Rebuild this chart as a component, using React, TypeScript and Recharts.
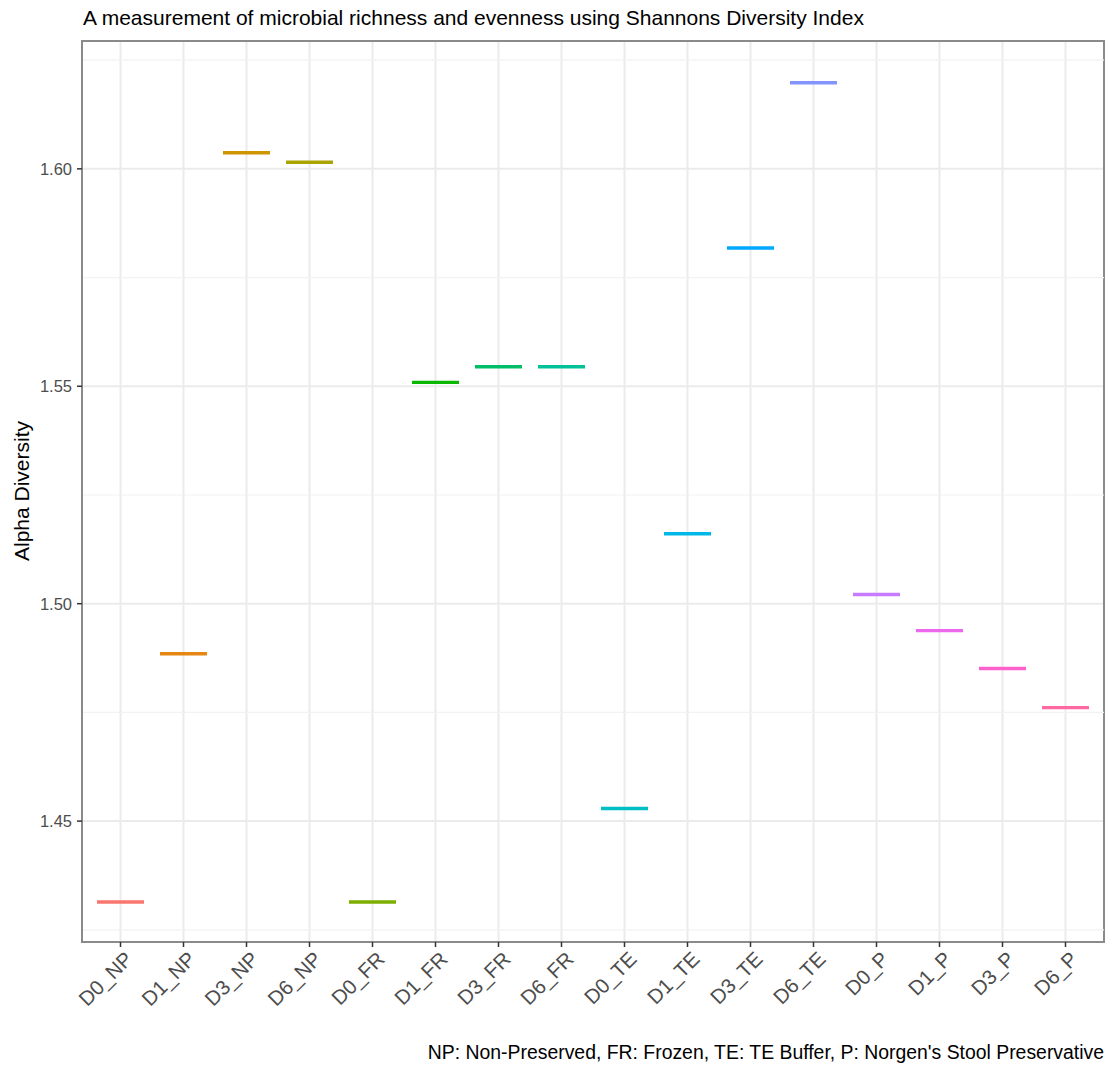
import React from 'react';
import * as RC from 'recharts';
import {
  ComposedChart,
  Bar,
  Cell,
  XAxis,
  YAxis,
  CartesianGrid,
  ReferenceLine,
} from 'recharts';

const categories = [
  'D0_NP', 'D1_NP', 'D3_NP', 'D6_NP',
  'D0_FR', 'D1_FR', 'D3_FR', 'D6_FR',
  'D0_TE', 'D1_TE', 'D3_TE', 'D6_TE',
  'D0_P', 'D1_P', 'D3_P', 'D6_P',
];

const alphaDiversity = [
  1.4314, 1.4885, 1.6037, 1.6015,
  1.4314, 1.5509, 1.5545, 1.5545,
  1.4529, 1.5161, 1.5818, 1.6198,
  1.5021, 1.4938, 1.4851, 1.4761,
];

const seriesColors = [
  '#F8766D', '#E68613', '#CD9600', '#ABA300',
  '#7CAE00', '#0CB702', '#00BE67', '#00C19A',
  '#00BFC4', '#00B8E7', '#00A9FF', '#8494FF',
  '#C77CFF', '#ED68ED', '#FF61CC', '#FF68A1',
];

const yTicks = [1.45, 1.5, 1.55, 1.6];
const yMinorTicks = [1.425, 1.475, 1.525, 1.575, 1.625];
const yDomain: [number, number] = [1.4222, 1.6294];

const titleText = 'A measurement of microbial richness and evenness using Shannons Diversity Index';
const yAxisTitle = 'Alpha Diversity';
const captionText = "NP: Non-Preserved, FR: Frozen, TE: TE Buffer, P: Norgen's Stool Preservative";

const data = categories.map((cat, i) => ({ cat, value: alphaDiversity[i] }));

const FONT = '"Liberation Sans", Arial, Helvetica, sans-serif';
const BORDER = { stroke: '#8A8A8A', strokeWidth: 2 };

const usePlotAreaSafe: () => any = (RC as any).usePlotArea ?? (() => null);

const PanelBorder = () => {
  const area = usePlotAreaSafe();
  if (!area) return null;
  return (
    <rect
      x={area.x}
      y={area.y}
      width={area.width}
      height={area.height}
      fill="none"
      stroke={BORDER.stroke}
      strokeWidth={BORDER.strokeWidth}
    />
  );
};

const MedianLine = (props: any) => {
  const { x, y, width, fill } = props;
  if (x == null || y == null) return null;
  return (
    <line
      x1={x}
      x2={x + width}
      y1={y}
      y2={y}
      stroke={fill}
      strokeWidth={3.4}
      strokeLinecap="butt"
    />
  );
};

const XTick = (props: any) => {
  const { x, y, payload } = props;
  return (
    <text
      x={x + 3}
      y={y + 1}
      transform={`rotate(-45 ${x + 3} ${y + 1})`}
      textAnchor="end"
      fontSize={20.5}
      fontFamily={FONT}
      fill="#4D4D4D"
      dy="0.72em"
    >
      {payload.value}
    </text>
  );
};

export default function App() {
  return (
    <div
      style={{
        position: 'absolute',
        left: 0,
        top: 0,
        width: 1107,
        height: 1065,
        background: '#fff',
        fontFamily: FONT,
      }}
    >
      <ComposedChart
        width={1107}
        height={1065}
        data={data}
        margin={{ top: 41, right: 3, bottom: 0, left: 0 }}
      >
        <CartesianGrid stroke="#EBEBEB" strokeWidth={2} />
        {yMinorTicks.map((v) => (
          <ReferenceLine key={v} y={v} stroke="#F2F2F2" strokeWidth={1.2} />
        ))}
        <XAxis
          dataKey="cat"
          type="category"
          interval={0}
          height={123}
          padding={{ left: 7, right: 7 }}
          axisLine={BORDER}
          tickLine={{ stroke: '#333333', strokeWidth: 1.5 }}
          tickSize={5}
          tick={<XTick />}
        />
        <YAxis
          type="number"
          width={82}
          domain={yDomain}
          ticks={yTicks}
          allowDataOverflow
          axisLine={BORDER}
          tickLine={{ stroke: '#333333', strokeWidth: 1.5 }}
          tickSize={5}
          tickMargin={5}
          tick={{ fontSize: 16.5, fill: '#4D4D4D', fontFamily: FONT }}
          tickFormatter={(v: number) => v.toFixed(2)}
        />
        <Bar dataKey="value" barSize={47} isAnimationActive={false} shape={<MedianLine />}>
          {data.map((d, i) => (
            <Cell key={d.cat} fill={seriesColors[i]} />
          ))}
        </Bar>
        <PanelBorder />
      </ComposedChart>
      <svg
        width={1107}
        height={1065}
        style={{ position: 'absolute', left: 0, top: 0, pointerEvents: 'none' }}
      >
        <text x={83} y={25} fontSize={21} fontFamily={FONT} fill="#000">
          {titleText}
        </text>
        <text
          x={29}
          y={491}
          transform="rotate(-90 29 491)"
          textAnchor="middle"
          fontSize={21}
          fontFamily={FONT}
          fill="#000"
        >
          {yAxisTitle}
        </text>
        <text x={1104} y={1059} textAnchor="end" fontSize={19.4} fontFamily={FONT} fill="#000">
          {captionText}
        </text>
      </svg>
    </div>
  );
}
